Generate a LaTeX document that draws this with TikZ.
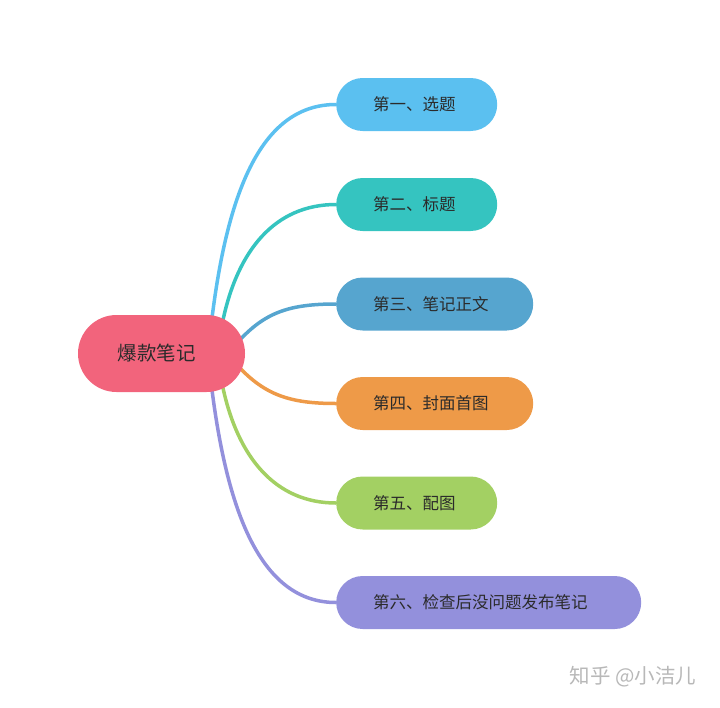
\documentclass[tikz,border=0pt]{standalone}
\usepackage{fontspec}
\setmainfont{Noto Sans CJK SC}
\usetikzlibrary{backgrounds}
\definecolor{cPink}{HTML}{F2647C}
\definecolor{cBlue}{HTML}{5BC0F0}
\definecolor{cTeal}{HTML}{35C4C0}
\definecolor{cSteel}{HTML}{56A5CF}
\definecolor{cOrange}{HTML}{EE9A48}
\definecolor{cGreen}{HTML}{A3D063}
\definecolor{cPurple}{HTML}{9390DC}
\definecolor{cText}{HTML}{2B2B2B}
\definecolor{cMark}{HTML}{B8B8B8}
\tikzset{
  rootbox/.style={fill=cPink, rounded corners=38.5pt, minimum width=167pt, minimum height=77pt, inner sep=0pt, text=cText, font=\fontsize{19.5}{19.5}\selectfont},
  leafbox/.style={fill=#1, rounded corners=26.5pt, minimum height=53pt, inner xsep=37pt, inner ysep=0pt, anchor=west, align=left, text=cText, font=\fontsize{16.5}{16.5}\selectfont},
  link/.style={draw=#1, line width=3.5pt, line cap=round},
}
\begin{document}
\begin{tikzpicture}[x=1pt,y=-1pt]
\useasboundingbox (0,0) rectangle (720,707);
\node[rootbox] (root) at (161.5,353.5) {爆款笔记\hspace*{10pt}};
\node[leafbox=cBlue, text width=87pt] (n1) at (336,104.5) {第一、选题};
\node[leafbox=cTeal, text width=87pt] (n2) at (336,204.5) {第二、标题};
\node[leafbox=cSteel, text width=123pt] (n3) at (336,304) {第三、笔记正文};
\node[leafbox=cOrange, text width=123pt] (n4) at (336,403.5) {第四、封面首图};
\node[leafbox=cGreen, text width=87pt] (n5) at (336,503) {第五、配图};
\node[leafbox=cPurple, text width=231pt] (n6) at (336,602.5) {第六、检查后没问题发布笔记};
\coordinate (s1) at (212,318);
\coordinate (s2) at (223,320);
\coordinate (s3) at (238,342);
\coordinate (s4) at (238,366);
\coordinate (s5) at (223,388);
\coordinate (s6) at (212,390);
\begin{pgfonlayer}{background}
\draw[link=cBlue] (s1) .. controls (228,190) and (262,104.5) .. (n1.west);
\draw[link=cTeal] (s2) .. controls (238,250) and (275,204.5) .. (n2.west);
\draw[link=cSteel] (s3) .. controls (265,312) and (290,304) .. (n3.west);
\draw[link=cOrange] (s4) .. controls (265,395) and (290,403.5) .. (n4.west);
\draw[link=cGreen] (s5) .. controls (238,457) and (275,503) .. (n5.west);
\draw[link=cPurple] (s6) .. controls (228,515) and (262,602.5) .. (n6.west);
\end{pgfonlayer}
\node[text=cMark, font=\fontsize{20.5}{20.5}\selectfont, anchor=center] (mark) at (633,677) {知乎 @小洁儿};
\end{tikzpicture}
\end{document}
